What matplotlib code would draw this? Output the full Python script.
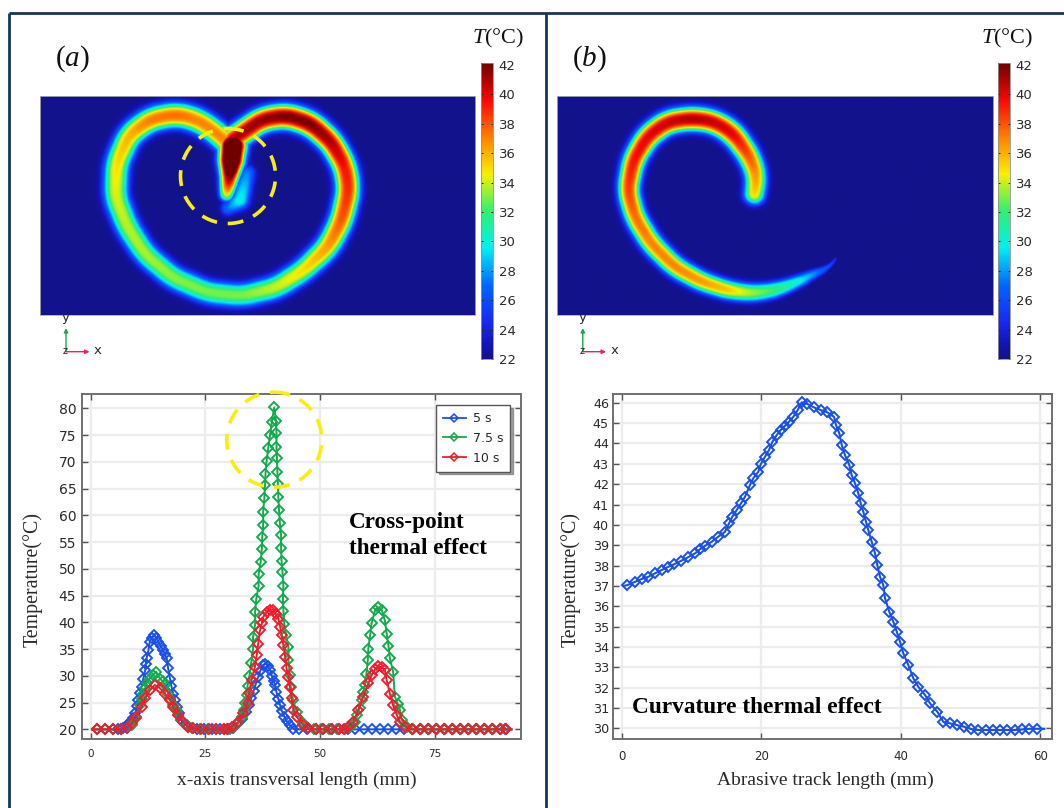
import numpy as np
import matplotlib
matplotlib.use("Agg")
import matplotlib.pyplot as plt
from matplotlib.colors import LinearSegmentedColormap
from matplotlib.lines import Line2D
from matplotlib.patches import Circle, FancyArrowPatch

plt.rcParams['mathtext.fontset'] = 'custom'
plt.rcParams['mathtext.rm'] = 'Liberation Serif'
plt.rcParams['mathtext.it'] = 'Liberation Serif:italic'

# ---------- line chart (a): values read marker by marker ----------
x_5s = [0.3, 1.3, 3.05, 4.8, 6.0, 7.1, 8, 8.6, 9.2, 9.7, 10.1, 10.4, 10.8, 11.1, 11.5, 11.9, 12.05, 12.2, 12.6, 12.9,
        13.4, 13.9, 14.3, 14.7, 15.3, 15.8, 16.2, 16.6, 16.9, 17.3, 17.6, 18, 18.4, 18.8, 19.3, 19.8, 20.5, 21.3, 23.1,
        24.8, 26.5, 28.2, 29.9, 31, 32, 33, 33.8, 34.5, 35, 35.5, 36, 36.5, 37, 37.5, 38.1, 38.6, 39.1, 39.5, 39.9, 40.2,
        40.5, 40.9, 41.3, 41.7, 42.2, 42.7, 43.4, 44.2, 45.5,
        47.2, 49, 50.7, 52.5, 54.2, 56, 57.7, 59.5, 61.2, 63, 64.7, 66.5, 68.2, 70, 71.7, 73.5, 75.2, 77, 78.7, 80.5,
        82.2, 84, 85.7, 87.5, 89.2, 90.3, 91.7]
y_5s = [20, 20, 20, 20, 20, 20.2, 20.8, 21.4, 22.2, 23, 24.3, 25.5, 26.8, 28, 29.5, 31.1, 32.2, 33.3, 34.8, 36.4,
        37.1, 37.6, 37, 36.4, 35.6, 34.8, 34, 33.3, 31.4, 29.5, 28.1, 26.7, 25.4, 24.2, 23, 21.7, 21, 20.5, 20,
        20, 20, 20, 20, 20.3, 21, 22, 23.2, 24.5, 25.8, 27.2, 28.5, 29.8, 31, 32, 32.3, 31.9, 31.1, 30, 29, 28.3,
        26.9, 25.7, 24.5, 23.4, 22.4, 21.6, 20.8, 20.1, 20,
        20, 20, 20, 20, 20, 20, 20, 20, 20, 20, 20, 20, 20, 20, 20, 20, 20, 20, 20, 20,
        20, 20, 20, 20, 20, 20, 20]
x_75s = [0.3, 1.3, 3.05, 4.8, 6.55, 7.9, 9, 10, 10.8, 11.2, 11.5, 11.9, 12.2, 12.9, 13.6, 14.25, 15.1, 15.7, 16.2, 16.9, 17.4, 18, 18.5,
         19.1, 20, 21, 22.2, 23.9, 25.6, 27.3, 29, 30.3, 31.3, 32.2, 33, 33.4, 33.6, 34, 34.2, 34.6, 35, 35.4, 35.4, 35.85, 35.85, 36.1, 36.6,
         36.6, 37.05, 37.3, 37.4, 37.6, 37.6, 37.85, 38, 38.1, 38.35, 38.7, 39.1, 39.5, 40, 40.4, 40.5, 40.5, 40.6, 40.7, 40.8, 40.9, 41.05, 41.25,
         41.5, 41.5, 41.6, 41.8, 42, 41.9, 42, 42.2, 42.6, 43.1, 43.1, 43.4, 43.6, 44.1, 44.9, 46.3, 47.4, 48.6,
         50.3, 52, 53.7, 55.4, 56.6, 57.5, 58.1, 58.6, 59.1, 59.4, 59.8, 60.1, 60.4, 60.5, 60.9, 61.2, 62, 62.6, 63.4, 64.1, 64.5, 64.9, 65.2, 65.9,
         66.3, 66.9, 67.4, 67.8, 68.9, 70.2,
         71.9, 73.7, 75.4, 77.2, 78.9, 80.7, 82.4, 84.2, 85.9, 87.7, 89.4, 90.5, 91.7]
y_75s = [20, 20, 20, 20, 20, 20.2, 20.8, 22.2, 24.5, 25.6, 26.7, 27.7, 28.6, 29.5, 30.2, 30.8, 29.5, 29, 28.3, 26.7, 25.7, 24.5, 23.6,
         22.7, 21.6, 20.8, 20.2, 20, 20, 20, 20, 20.1, 20.5, 21.2, 22.3, 23.6, 25, 26.5, 28.2, 30, 32.4, 35, 37.3, 39.6, 42, 44.4, 46.8,
         49, 51.3, 53.7, 56, 58.2, 60.7, 63.2, 65.6, 67.8, 70.2, 72.6, 75, 77.5, 80.2, 77.6, 75.4, 72.8, 70.7, 68.1, 65.8, 63.5, 61, 58.5,
         56.3, 53.9, 51.5, 49.4, 46.8, 44.4, 42.2, 39.7, 37.6, 35.4, 32.9, 30.2, 28, 25.5, 23.3, 21.2, 20.3, 20,
         20, 20, 20, 20, 20.4, 21.3, 22.6, 24, 25.5, 27, 28.3, 30.4, 33, 35.1, 37.6, 39.8, 42.3, 42.8, 42.4, 40.4, 37.9, 35.6, 33.3, 30.8,
         26.1, 24.8, 23.6, 21.7, 20.5, 20,
         20, 20, 20, 20, 20, 20, 20, 20, 20, 20, 20, 20, 20]
x_10s = [0.3, 1.3, 3.05, 4.8, 6.55, 7.9, 9, 10, 11.1, 11.9, 12.9, 14, 15.1, 16.2, 17.3, 18, 19.1, 20.2, 21.3, 22.4, 24, 25.7, 27.4, 29.1,
         29.7, 30.7, 32.2, 33.3, 34.2, 34.5, 35.1, 35.8, 36.2, 36.5, 36.9, 37.3, 37.6, 38.4, 39.1, 39.8, 40.4, 40.9, 41.3, 41.6, 42, 42.4, 42.7,
         43.1, 43.4, 43.8, 44.2, 44.9, 46.3, 47.4, 49, 50.7, 52.4, 54.2, 55.2, 56, 57.2, 58.3, 59.4, 60.5, 61.2, 62, 62.7, 63.4, 64.1, 64.5, 65.2, 65.9,
         66.7, 67.4, 68.5, 70, 71.7, 73.4, 75.2, 76.9, 78.7, 80.4, 82.2, 83.9, 85.7, 87.4, 89.2, 90.4, 91.7]
y_10s = [20, 20, 20, 20, 20, 20.2, 21.1, 22.4, 24.2, 25.8, 27.3, 28.3, 27.7, 26.7, 25.5, 24.2, 22.7, 21.4, 20.5, 20.2, 20, 20, 20, 20,
         20, 20.5, 21.4, 23, 24.9, 26.8, 29.3, 31.7, 33.9, 36, 38.5, 39.8, 41, 42, 42.4, 42.4, 41.5, 40.7, 39.2, 37.6, 35.8, 33.6, 31.4,
         29.8, 28, 25.8, 23.6, 22.4, 20.8, 20.2, 20, 20, 20, 20, 20, 20.4, 21.4, 23.6, 26.1, 28.6, 30.1, 31.2, 31.8, 31.6, 31.1, 29.2, 26.7, 24.5,
         22.7, 21.4, 20.5, 20, 20, 20, 20, 20, 20, 20, 20, 20, 20, 20, 20, 20, 20]
legend_labels = ['5 s', '7.5 s', '10 s']
yticks_a = [20, 25, 30, 35, 40, 45, 50, 55, 60, 65, 70, 75, 80]
xticks_a = [0, 25, 50, 75]

# ---------- line chart (b) ----------
x_track = [0.2, 0.77, 1.88, 2.84, 3.79, 4.75, 5.7, 6.66, 7.52, 8.48, 9.44, 10.49, 11.2, 11.92, 12.88, 13.83, 14.79, 15.37, 15.84, 16.47, 17.09,
           17.66, 18.38, 18.85, 19.57, 19.91, 20.53, 21.11, 21.58, 22.2, 22.78, 23.4, 23.97, 24.6, 25.22, 25.79, 26.6, 27.56, 28.52, 29.47, 30.43,
           30.72, 31.19, 31.54, 32, 32.62, 32.96, 33.44, 33.92, 34.26, 34.64, 35.02, 35.35, 35.84, 36.31, 36.64, 37.03, 37.5, 37.75, 38.36, 38.94,
           39.43, 39.9, 40.37, 41.09, 41.81, 42.53, 43.49, 44.2, 45.25, 46.11, 47.07, 48.12, 49.13, 50.09, 51.13, 52.2, 53.24, 54.25, 55.3, 56.4,
           57.45, 58.45, 59.5, 60.6]
y_track = [37, 37.04, 37.2, 37.34, 37.45, 37.62, 37.78, 37.94, 38.07, 38.23, 38.4, 38.6, 38.8, 38.97, 39.17, 39.42, 39.66, 40.07, 40.4, 40.73, 41.06,
           41.38, 41.96, 42.29, 42.61, 42.97, 43.35, 43.68, 44.08, 44.41, 44.66, 44.87, 45.07, 45.31, 45.64, 46.02, 45.94, 45.77, 45.64, 45.53, 45.31,
           44.9, 44.5, 43.92, 43.43, 42.94, 42.45, 42.04, 41.55, 41.06, 40.64, 40.15, 39.74, 39.17, 38.6, 38.02, 37.45, 37.04, 36.39, 35.73, 35.24,
           34.75, 34.25, 33.69, 33.11, 32.46, 32.04, 31.64, 31.23, 30.82, 30.32, 30.25, 30.16, 30.08, 29.97, 29.92, 29.92, 29.92, 29.92, 29.92, 29.92,
           29.95, 29.98, 29.98, 29.98]
yticks_b = list(range(30, 47))
xticks_b = [0, 20, 40, 60]

# ---------- temperature maps: ridge lines (mm, degC, mm) ----------
a_ring_x = [43.9, 51.0, 56.6, 62.1, 66.9, 70.0, 70.8, 69.2, 66.1, 60.5, 54.2, 46.3, 38.4, 30.5, 24.1, 20.0, 17.3, 17.6, 20.5, 25.4, 31.3, 36.0, 40.0, 42.7]
a_ring_y = [40.1, 45.0, 45.8, 44.0, 39.7, 34.1, 28.7, 21.8, 15.7, 10.3, 6.3, 4.4, 5.2, 8.6, 14.0, 20.3, 27.2, 34.8, 41.4, 45.0, 46.1, 44.9, 42.3, 39.8]
a_ring_t = [41, 41.5, 42, 42, 41, 39.5, 39, 38, 36.5, 35, 34, 33, 33, 33.2, 33.6, 33.8, 34.2, 35, 36, 37.2, 37.5, 37, 37, 37]
a_ring_w = [2.8, 2.8, 2.85, 2.85, 2.8, 2.8, 2.8, 2.8, 2.8, 2.7, 2.7, 2.7, 2.7, 2.7, 2.7, 2.8, 2.85, 2.85, 2.85, 2.85, 2.85, 2.85, 2.8, 2.8]
a_stem_x = [44.3, 43.9, 43.5, 42.7]
a_stem_y = [39.4, 35.6, 31.8, 27.2]
a_stem_t = [50, 50, 42, 34]
a_stem_w = [3.0, 2.8, 2.2, 1.7]
a_wake_x = [47.5, 45.9, 43.1]
a_wake_y = [32.5, 26.4, 24.5]
a_wake_t = [27.5, 30, 27]
a_wake_w = [2.0, 2.2, 1.7]
b_arc_x = [45.1, 45.7, 44.1, 40.3, 36.1, 31.1, 25.3, 20.7, 17.5, 16.2, 17.8, 21.5, 26.9, 33.0, 39.1, 44.5, 49.9, 55.3, 59.9, 62.2, 64.1]
b_arc_y = [27.2, 31.8, 36.4, 41.7, 44.4, 45.2, 44.4, 41.0, 35.6, 28.7, 22.6, 16.5, 11.1, 7.7, 5.7, 5.0, 5.7, 7.7, 10.0, 10.7, 13.4]
b_arc_t = [35, 36.5, 38, 40, 40.5, 41, 40.5, 40, 39.5, 38.5, 37.5, 37, 37, 36.5, 35.5, 33.5, 32, 30, 27, 26, 24.5]
b_arc_w = [2.4, 2.5, 2.6, 2.7, 2.7, 2.7, 2.7, 2.7, 2.6, 2.5, 2.5, 2.5, 2.4, 2.3, 2.2, 2.1, 1.9, 1.5, 1.0, 0.6, 0.3]
cbar_ticks = [22, 24, 26, 28, 30, 32, 34, 36, 38, 40, 42]
T_MIN, T_MAX = 22, 42.14

W, H = 1064, 808
BLUE, GREEN, RED = '#1a50ea', '#12aa4c', '#f01c2c'
INK = '#2a2a2a'
SERIF = 'Liberation Serif'

fig = plt.figure(figsize=(W / 100, H / 100), dpi=100, facecolor='white')


def ax_px(l, t, r, b, **kw):
    return fig.add_axes([l / W, 1 - b / H, (r - l) / W, (b - t) / H], **kw)


cmap = LinearSegmentedColormap.from_list('t', [
    (0.00, '#12128c'), (0.05, '#1414b4'), (0.125, '#1a28f0'), (0.25, '#0068ff'),
    (0.375, '#00f0f0'), (0.50, '#30f070'), (0.625, '#f8f000'), (0.75, '#ff8000'),
    (0.875, '#f80808'), (1.00, '#700000')])


def ridge_field(ridges, width=100.0, height=50.3, nx=436, ny=220):
    gx, gy = np.meshgrid((np.arange(nx) + .5) / nx * width, (np.arange(ny) + .5) / ny * height)
    out = np.full(gx.shape, float(T_MIN))
    for rx, ry, rt, rw in ridges:
        rx, ry = np.asarray(rx, float), np.asarray(ry, float)
        s = np.r_[0, np.cumsum(np.hypot(np.diff(rx), np.diff(ry)))]
        ss = np.arange(0, s[-1] + .2, .2)
        px, py, pt, pw = (np.interp(ss, s, v) for v in (rx, ry, rt, rw))
        if len(ss) > 60:  # round the corners of the read-off ridge line
            kern = np.ones(25) / 25
            px = np.convolve(np.pad(px, 12, mode='edge'), kern, mode='valid')
            py = np.convolve(np.pad(py, 12, mode='edge'), kern, mode='valid')
        for a, b, c, d in zip(px, py, pt, pw):
            dist = np.hypot(gx - a, gy - b)
            out = np.maximum(out, T_MIN + (c - T_MIN) * np.exp(-(dist / d) ** 2.6))
    return out


def heat_panel(box, cbar_box, ridges):
    ax = ax_px(*box)
    im = ax.imshow(ridge_field(ridges), origin='lower', extent=(0, 100, 0, 50.3), cmap=cmap,
                   vmin=T_MIN, vmax=T_MAX, aspect='auto', interpolation='bilinear')
    ax.set_xticks([]); ax.set_yticks([])
    for s in ax.spines.values():
        s.set_color('#b0b0b0'); s.set_linewidth(.6)
    cax = ax_px(*cbar_box)
    cb = fig.colorbar(im, cax=cax)
    cb.set_ticks(cbar_ticks)
    cb.ax.tick_params(length=1.5, width=.7, direction='in', color='#222222', labelsize=9.5,
                      labelcolor=INK, pad=4, right=True, left=True)
    cb.outline.set_edgecolor('#909090'); cb.outline.set_linewidth(.6)


heat_panel((39.6, 96, 475, 315), (480.7, 63, 493, 359),
           [(a_wake_x, a_wake_y, a_wake_t, a_wake_w), (a_ring_x, a_ring_y, a_ring_t, a_ring_w),
            (a_stem_x, a_stem_y, a_stem_t, a_stem_w)])
heat_panel((556.7, 96, 993, 315), (998, 63, 1010, 359), [(b_arc_x, b_arc_y, b_arc_t, b_arc_w)])


def style_axes(ax, xt, yt, xsize, ysize, xpad, ypad):
    ax.set_xticks(xt); ax.set_yticks(yt)
    ax.grid(True, color='#ececec', lw=1.6)
    ax.set_axisbelow(True)
    ax.tick_params(axis='x', direction='in', length=4, width=1, color='#555555', top=True,
                   labelsize=xsize, labelcolor=INK, pad=xpad)
    ax.tick_params(axis='y', direction='in', length=4, width=1, color='#555555', right=True,
                   labelsize=ysize, labelcolor=INK, pad=ypad)
    for s in ax.spines.values():
        s.set_color('#707070'); s.set_linewidth(1.4)


# chart (a)
axa = ax_px(82, 394, 520.7, 739)
axa.set_xlim(-1.87, 93.7); axa.set_ylim(18.2, 82.7)
kw_a = dict(lw=1.4, marker='D', ms=4.6, mfc='none', mew=1.35, markevery=slice(1, -1))
axa.plot(x_5s, y_5s, color=BLUE, **kw_a)
axa.plot(x_75s, y_75s, color=GREEN, **kw_a)
axa.plot(x_10s, y_10s, color=RED, **kw_a)
style_axes(axa, xticks_a, yticks_a, 7.5, 10, 7.5, 4.2)
axa.set_xlabel('x-axis transversal length (mm)', family=SERIF, fontsize=14, color=INK)
axa.xaxis.set_label_coords(0.49, -0.095)
axa.set_ylabel('Temperature(°C)', family=SERIF, fontsize=14.3, color=INK)
axa.yaxis.set_label_coords(-0.09, 0.461)
handles = [Line2D([], [], color=c, lw=1.3, marker='D', ms=4, mfc='none', mew=1.1) for c in (BLUE, GREEN, RED)]
axa.legend(handles, legend_labels, loc='upper right', bbox_to_anchor=(0.9756, 0.968), borderaxespad=0,
           fontsize=9, fancybox=False, shadow=True, edgecolor='#555555', framealpha=1,
           labelcolor=INK, handlelength=1.9, handletextpad=.5, labelspacing=.55, borderpad=.55)
axa.text(0.6075, 0.658, 'Cross-point\nthermal effect', transform=axa.transAxes, family=SERIF, weight='bold',
         fontsize=16.7, color='black', va='top', linespacing=1.33)

# chart (b)
axb = ax_px(612.9, 394, 1052, 739)
axb.set_xlim(-1.29, 61.7); axb.set_ylim(29.48, 46.43)
axb.plot(x_track, y_track, color=BLUE, lw=1.5, marker='D', ms=4.6, mfc='none', mew=1.4, markevery=slice(1, -1))
style_axes(axb, xticks_b, yticks_b, 8.5, 9.2, 8, 2.8)
axb.set_xlabel('Abrasive track length (mm)', family=SERIF, fontsize=14, color=INK)
axb.xaxis.set_label_coords(0.485, -0.095)
axb.set_ylabel('Temperature(°C)', family=SERIF, fontsize=14.3, color=INK)
axb.yaxis.set_label_coords(-0.074, 0.461)
axb.text(0.044, 0.09, 'Curvature thermal effect', transform=axb.transAxes, family=SERIF, weight='bold',
         fontsize=16.8, color='black', va='center')

# overlay in pixel coordinates: frame, dashed circles, panel letters, triads
ov = fig.add_axes([0, 0, 1, 1], zorder=10)
ov.set_xlim(0, W); ov.set_ylim(H, 0); ov.axis('off'); ov.patch.set_alpha(0)
NAVY = '#17365d'
for x0, y0, x1, y1 in [(8.5, 13, 1064, 13), (8.5, 13, 8.5, 808), (546, 13, 546, 808)]:
    ov.plot([x0, x1], [y0, y1], color=NAVY, lw=2, solid_capstyle='butt')
for cx, cy in [(228, 176), (274.3, 439.7)]:
    ov.add_patch(Circle((cx, cy), 47.5, fill=False, edgecolor='#f8ee10', lw=2.6, linestyle=(0, (4.4, 3.0))))
for tx, letter in [(55, 'a'), (572, 'b')]:
    ov.text(tx, 59, '($\\mathit{%s}$)' % letter, family=SERIF, fontsize=21, color='#111111', va='center')
for tx in (472, 981):
    ov.text(tx, 38, '$\\mathit{T}$(°C)', family=SERIF, fontsize=16, color='#111111', va='center')
for ox, xend, xlab in [(66, 89.5, 98), (582.8, 606, 615)]:
    ov.add_patch(FancyArrowPatch((ox, 351.7), (xend, 351.7), arrowstyle='-|>', mutation_scale=6, color='#f02060', lw=1, shrinkA=0, shrinkB=0))
    ov.add_patch(FancyArrowPatch((ox, 351.7), (ox, 328), arrowstyle='-|>', mutation_scale=6, color='#18a850', lw=1, shrinkA=0, shrinkB=0))
    ov.text(xlab, 351, 'x', fontsize=9.5, color=INK, ha='center', va='center')
    ov.text(ox, 318, 'y', fontsize=9.5, color=INK, ha='center', va='center')
    ov.text(ox - 1, 351.5, 'z', fontsize=7, color=INK, ha='center', va='center')

fig.savefig('out.png', dpi=100)
